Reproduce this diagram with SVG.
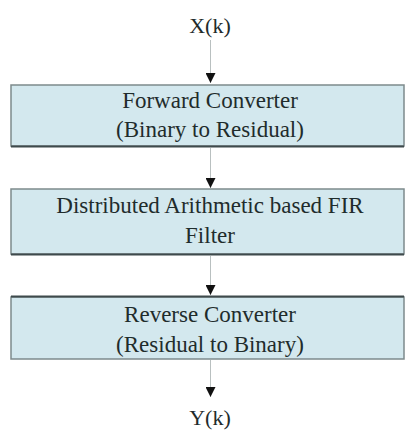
<svg xmlns="http://www.w3.org/2000/svg" width="406" height="430" viewBox="0 0 406 430">
<style>
.box{fill:#d3e8ee;stroke:#7d8a8c;stroke-width:1.5}
.shadow{stroke:#3e4a4c;stroke-width:2}
.t{font-family:"Liberation Serif","Times New Roman",serif;font-size:23px;fill:#1f2c2c;text-anchor:middle}
.lbl{font-family:"Liberation Serif","Times New Roman",serif;font-size:22px;fill:#1f2c2c;text-anchor:middle}
.c{stroke:#b9c0c0;stroke-width:1;fill:none;marker-end:url(#ah)}
</style>
<defs>
<marker id="ah" viewBox="0 0 10 10" refX="10" refY="5" markerWidth="10" markerHeight="10" markerUnits="userSpaceOnUse" orient="auto">
<path d="M0,0 L10,5 L0,10 Z" fill="#111111"/>
</marker>
</defs>
<rect width="406" height="430" fill="#ffffff"/>
<g id="connectors">
<path class="c" d="M210.5,40 V83"/>
<path class="c" d="M210.5,148 V188"/>
<path class="c" d="M210.5,256 V295"/>
<path class="c" d="M210.5,360 V397"/>
</g>
<g id="input"><text class="lbl" x="210" y="33">X(k)</text></g>
<g id="forward">
<rect class="box" x="11" y="85" width="393" height="61"/>
<line class="shadow" x1="11" y1="146.5" x2="404" y2="146.5"/>
<text class="t" x="210" y="108">Forward Converter</text>
<text class="t" x="210" y="137">(Binary to Residual)</text>
</g>
<g id="fir">
<rect class="box" x="11" y="189" width="393" height="65"/>
<line class="shadow" x1="11" y1="254.5" x2="404" y2="254.5"/>
<text class="t" x="210" y="213">Distributed Arithmetic based FIR</text>
<text class="t" x="210" y="243">Filter</text>
</g>
<g id="reverse">
<rect class="box" x="11" y="297" width="393" height="62"/>
<line class="shadow" x1="11" y1="296.5" x2="404" y2="296.5"/>
<text class="t" x="210" y="322">Reverse Converter</text>
<text class="t" x="210" y="352">(Residual to Binary)</text>
</g>
<g id="output"><text class="lbl" x="210" y="425">Y(k)</text></g>
</svg>
